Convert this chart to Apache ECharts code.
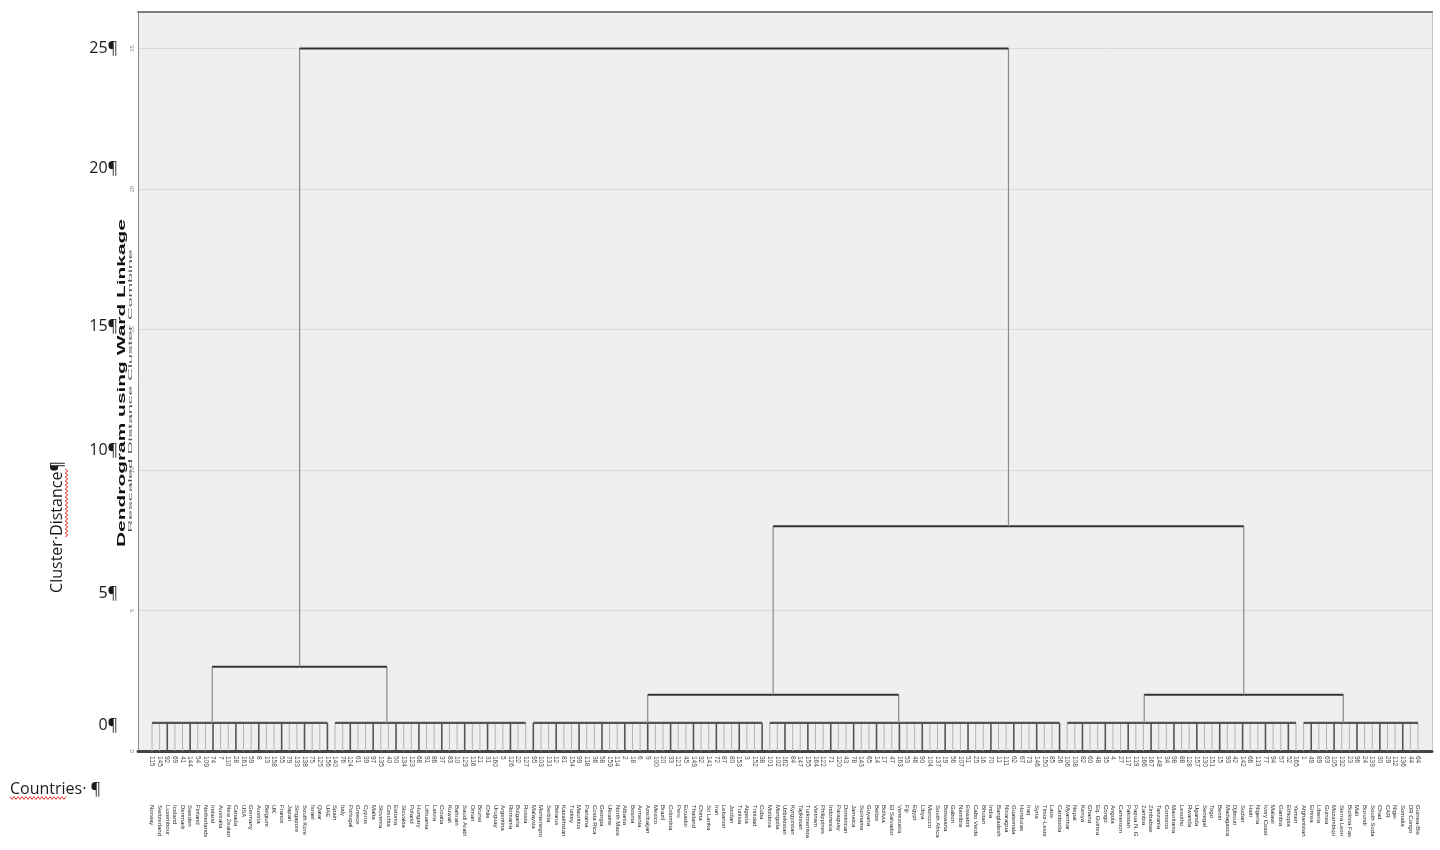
<!DOCTYPE html>
<html>
<head>
<meta charset="utf-8">
<title>Dendrogram using Ward Linkage</title>
<script src="https://cdn.jsdelivr.net/npm/echarts@6/dist/echarts.min.js"></script>
<style>
  html, body { margin: 0; padding: 0; background: #ffffff; }
  #chart { width: 1440px; height: 850px; }
</style>
</head>
<body>
<div id="chart"></div>
<script>
// ---- Leaf clusters, in dendrogram order (left to right) ----
const clusterA = ['Norway', 'Switzerland', 'Luxembourg', 'Iceland', 'Denmark', 'Sweden', 'Finland', 'Netherlands',
  'Ireland', 'Australia', 'New Zealand', 'Canada', 'USA', 'Germany', 'Austria', 'Belgium', 'UK', 'France',
  'Japan', 'Singapore', 'South Korea', 'Israel', 'Qatar', 'UAE'];
const clusterB = ['Spain', 'Italy', 'Portugal', 'Greece', 'Cyprus', 'Malta', 'Slovenia', 'Czechia', 'Estonia',
  'Slovakia', 'Poland', 'Hungary', 'Lithuania', 'Latvia', 'Croatia', 'Kuwait', 'Bahrain', 'Saudi Arabia', 'Oman',
  'Brunei', 'Chile', 'Uruguay', 'Argentina', 'Romania', 'Bulgaria', 'Russia'];
const clusterC = ['Malaysia', 'Montenegro', 'Serbia', 'Belarus', 'Kazakhstan', 'Turkey', 'Mauritius', 'Panama',
  'Costa Rica', 'Georgia', 'Ukraine', 'North Macedonia', 'Albania', 'Bosnia', 'Armenia', 'Azerbaijan', 'Mexico',
  'Brazil', 'Colombia', 'Peru', 'Ecuador', 'Thailand', 'China', 'Sri Lanka', 'Iran', 'Lebanon', 'Jordan',
  'Tunisia', 'Algeria', 'Trinidad', 'Cuba'];
const clusterD = ['Moldova', 'Mongolia', 'Uzbekistan', 'Kyrgyzstan', 'Tajikistan', 'Turkmenistan', 'Vietnam',
  'Philippines', 'Indonesia', 'Paraguay', 'Dominican Rep.', 'Jamaica', 'Suriname', 'Guyana', 'Belize', 'Bolivia',
  'El Salvador', 'Venezuela', 'Fiji', 'Egypt', 'Libya', 'Morocco', 'South Africa', 'Botswana', 'Gabon', 'Namibia',
  'Eswatini', 'Cabo Verde', 'Bhutan', 'India', 'Bangladesh', 'Nicaragua', 'Guatemala', 'Honduras', 'Iraq', 'Syria',
  'Timor-Leste', 'Laos', 'Cambodia'];
const clusterE = ['Myanmar', 'Nepal', 'Kenya', 'Ghana', 'Eq. Guinea', 'Congo', 'Angola', 'Cameroon', 'Pakistan',
  'Papua N. G.', 'Zambia', 'Zimbabwe', 'Tanzania', 'Comoros', 'Mauritania', 'Lesotho', 'Rwanda', 'Uganda',
  'Senegal', 'Togo', 'Benin', 'Madagascar', 'Djibouti', 'Sudan', 'Haiti', 'Nigeria', 'Ivory Coast', 'Malawi',
  'Gambia', 'Ethiopia', 'Yemen'];
const clusterF = ['Afghanistan', 'Eritrea', 'Liberia', 'Guinea', 'Mozambique', 'Sierra Leone', 'Burkina Faso',
  'Mali', 'Burundi', 'South Sudan', 'Chad', 'CAR', 'Niger', 'Somalia', 'DR Congo', 'Guinea-Bissau'];

const leafGroups = [clusterA, clusterB, clusterC, clusterD, clusterE, clusterF];

// Rescaled distance at which the members of each leaf cluster are joined
const groupMergeHeight = 1.0;
// Where each leaf cluster's link rises, in leaves from the cluster's first leaf
const groupLinkOffset = [7.9, 6.8, 15.0, 16.9, 10.1, 5.2];
// Agglomeration steps: [node a, node b, rescaled distance]; nodes 0-5 are the leaf clusters,
// each step creates the next node id (6, 7, ...)
const merges = [
  [0, 1, 3.0],
  [2, 3, 2.0],
  [4, 5, 2.0],
  [7, 8, 8.0],
  [6, 9, 25.0]
];

// Text
const overlayTickLabels = ['25¶', '20¶', '15¶', '10¶', '5¶', '0¶'];
const yAxisTitle = 'Cluster·Distance¶';
const xAxisTitle = 'Countries· ¶';
const chartTitle = 'Dendrogram using Ward Linkage';
const chartSubtitle = 'Rescaled Distance Cluster Combine';

// ---- Build the tree geometry in data units (leaf index, distance) ----
const leaves = [];
const nodes = [];
const segments = []; // [x1, y1, x2, y2, kind]
const KIND = { leafLight: 0, leafDark: 1, groupBar: 2, stem: 3, link: 4 };
let start = 0;
leafGroups.forEach((group, gi) => {
  group.forEach((name, k) => {
    const i = start + k;
    leaves.push({ i, name });
    segments.push([i, 0, i, groupMergeHeight, i % 3 === 2 ? KIND.leafDark : KIND.leafLight]);
  });
  segments.push([start, groupMergeHeight, start + group.length - 1, groupMergeHeight, KIND.groupBar]);
  nodes.push({ x: start + groupLinkOffset[gi], h: groupMergeHeight });
  start += group.length;
});
const leafCount = start;

merges.forEach(([a, b, h]) => {
  const A = nodes[a], B = nodes[b];
  segments.push([A.x, A.h, A.x, h, KIND.stem]);
  segments.push([B.x, B.h, B.x, h, KIND.stem]);
  segments.push([A.x, h, B.x, h, KIND.link]);
  nodes.push({ x: (A.x + B.x) / 2, h });
});

// Case numbers follow the alphabetical order of the data file
const sortedNames = leaves.map(l => l.name).sort((p, q) => p.localeCompare(q));
leaves.forEach(l => { l.caseNo = String(sortedNames.indexOf(l.name) + 1); });

// ---- Layout ----
const gridLeft = 138, gridRight = 8, gridTop = 12, gridBottom = 99;
const plotWidth = 1440 - gridLeft - gridRight;
const leafEdgePad = 14; // px between the frame and the outer leaves
const leafStep = (plotWidth - 2 * leafEdgePad) / (leafCount - 1);
const xMin = -leafEdgePad / leafStep;
const xMax = leafCount - 1 + leafEdgePad / leafStep;

const segStyle = {
  [KIND.leafLight]: { stroke: '#b4b4b4', lineWidth: 1 },
  [KIND.leafDark]: { stroke: '#555555', lineWidth: 1.6 },
  [KIND.groupBar]: { stroke: '#555555', lineWidth: 2.2 },
  [KIND.stem]: { stroke: '#8a8a8a', lineWidth: 1.2 },
  [KIND.link]: { stroke: '#333333', lineWidth: 2 }
};

function measure(str, font) {
  const ctx = document.createElement('canvas').getContext('2d');
  ctx.font = font;
  return ctx.measureText(str).width;
}

function squiggle(x0, y0, len, vertical) {
  const pts = [];
  for (let t = 0, k = 0; t <= len; t += 2, k++) {
    const off = k % 2 ? 1.4 : -1.4;
    pts.push(vertical ? [x0 + off, y0 - t] : [x0 + t, y0 + off]);
  }
  return { type: 'polyline', shape: { points: pts }, style: { stroke: '#e2352c', lineWidth: 1, fill: null } };
}

const wordFont = '16px "Open Sans", "Liberation Sans", sans-serif';
const overlayTickY = [48, 168, 326, 450, 593, 725];
const titleFont = 'bold 10px "Liberation Sans", Arial, sans-serif';
const subFont = '6px "Liberation Sans", Arial, sans-serif';
const titleScale = 328 / measure(chartTitle, titleFont);
const subScale = 283 / measure(chartSubtitle, subFont);

const graphics = [];
overlayTickLabels.forEach((t, k) => {
  graphics.push({
    type: 'text', x: 118, y: overlayTickY[k],
    style: { text: t, font: wordFont, fill: '#1b1b1b', align: 'right', verticalAlign: 'middle' }
  });
});
graphics.push({
  type: 'text', x: 10, y: 789,
  style: { text: xAxisTitle, font: wordFont, fill: '#1b1b1b', align: 'left', verticalAlign: 'middle' }
});
graphics.push(squiggle(10, 798, 57, false));
graphics.push({
  type: 'text', x: 57, y: 527, rotation: Math.PI / 2,
  style: { text: yAxisTitle, font: wordFont, fill: '#1b1b1b', align: 'center', verticalAlign: 'middle' }
});
graphics.push(squiggle(66.5, 537, 69, true));
graphics.push({
  type: 'text', x: 122, y: 383, rotation: Math.PI / 2, scaleX: titleScale, scaleY: 1,
  style: { text: chartTitle, font: titleFont, fill: '#111111', align: 'center', verticalAlign: 'middle' }
});
graphics.push({
  type: 'text', x: 130, y: 391, rotation: Math.PI / 2, scaleX: subScale, scaleY: 1,
  style: { text: chartSubtitle, font: subFont, fill: '#555555', align: 'center', verticalAlign: 'middle' }
});

const chart = echarts.init(document.getElementById('chart'), null, { renderer: 'canvas' });

chart.setOption({
  animation: false,
  backgroundColor: '#ffffff',
  grid: {
    left: gridLeft, right: gridRight, top: gridTop, bottom: gridBottom,
    show: true, backgroundColor: '#efefef', borderWidth: 0
  },
  xAxis: [
    {
      type: 'value', position: 'bottom', min: xMin, max: xMax,
      axisLine: { show: true, onZero: false, lineStyle: { color: '#444444', width: 3 } },
      axisTick: { show: false }, axisLabel: { show: false }, splitLine: { show: false }
    },
    {
      type: 'value', position: 'top', min: xMin, max: xMax,
      axisLine: { show: true, onZero: false, lineStyle: { color: '#7e7e7e', width: 2 } },
      axisTick: { show: false }, axisLabel: { show: false }, splitLine: { show: false }
    }
  ],
  yAxis: [
    {
      type: 'value', position: 'left', min: 0, max: 26.3, interval: 5,
      axisLine: { show: true, onZero: false, lineStyle: { color: '#8c8c8c', width: 1 } },
      axisTick: { show: false },
      axisLabel: {
        rotate: 90, fontSize: 6, color: '#8a8a8a', margin: 3, fontFamily: 'Liberation Sans',
        showMaxLabel: false
      },
      splitLine: { show: true, lineStyle: { color: '#dadada', width: 1 } }
    },
    {
      type: 'value', position: 'right', min: 0, max: 26.3,
      axisLine: { show: true, onZero: false, lineStyle: { color: '#c4c4c4', width: 1 } },
      axisTick: { show: false }, axisLabel: { show: false }, splitLine: { show: false }
    }
  ],
  series: [
    {
      type: 'custom',
      name: 'tree',
      xAxisIndex: 0, yAxisIndex: 0,
      clip: false,
      data: segments,
      encode: { x: [0, 2], y: [1, 3] },
      renderItem: function (params, api) {
        const p1 = api.coord([api.value(0), api.value(1)]);
        const p2 = api.coord([api.value(2), api.value(3)]);
        const st = segStyle[api.value(4)];
        return {
          type: 'line',
          shape: { x1: p1[0], y1: p1[1], x2: p2[0], y2: p2[1] },
          style: { stroke: st.stroke, lineWidth: st.lineWidth }
        };
      }
    },
    {
      type: 'custom',
      name: 'leaf labels',
      xAxisIndex: 0, yAxisIndex: 0,
      clip: false,
      data: leaves.map(l => [l.i, 0]),
      encode: { x: 0, y: 1 },
      renderItem: function (params, api) {
        const leaf = leaves[params.dataIndex];
        const p = api.coord([api.value(0), 0]);
        return {
          type: 'group',
          children: [
            {
              type: 'text', x: p[0], y: p[1] + 5, rotation: -Math.PI / 2,
              style: {
                text: leaf.caseNo, font: '6.5px "Liberation Sans", sans-serif',
                fill: '#4a4a4a', align: 'left', verticalAlign: 'middle'
              }
            },
            {
              type: 'text', x: p[0], y: p[1] + 54, rotation: -Math.PI / 2,
              style: {
                text: leaf.name, font: '6px "Liberation Sans", sans-serif',
                fill: '#2a2a2a', align: 'left', verticalAlign: 'middle',
                width: 34, overflow: 'truncate', ellipsis: ''
              }
            }
          ]
        };
      }
    }
  ],
  graphic: graphics
});
</script>
</body>
</html>
